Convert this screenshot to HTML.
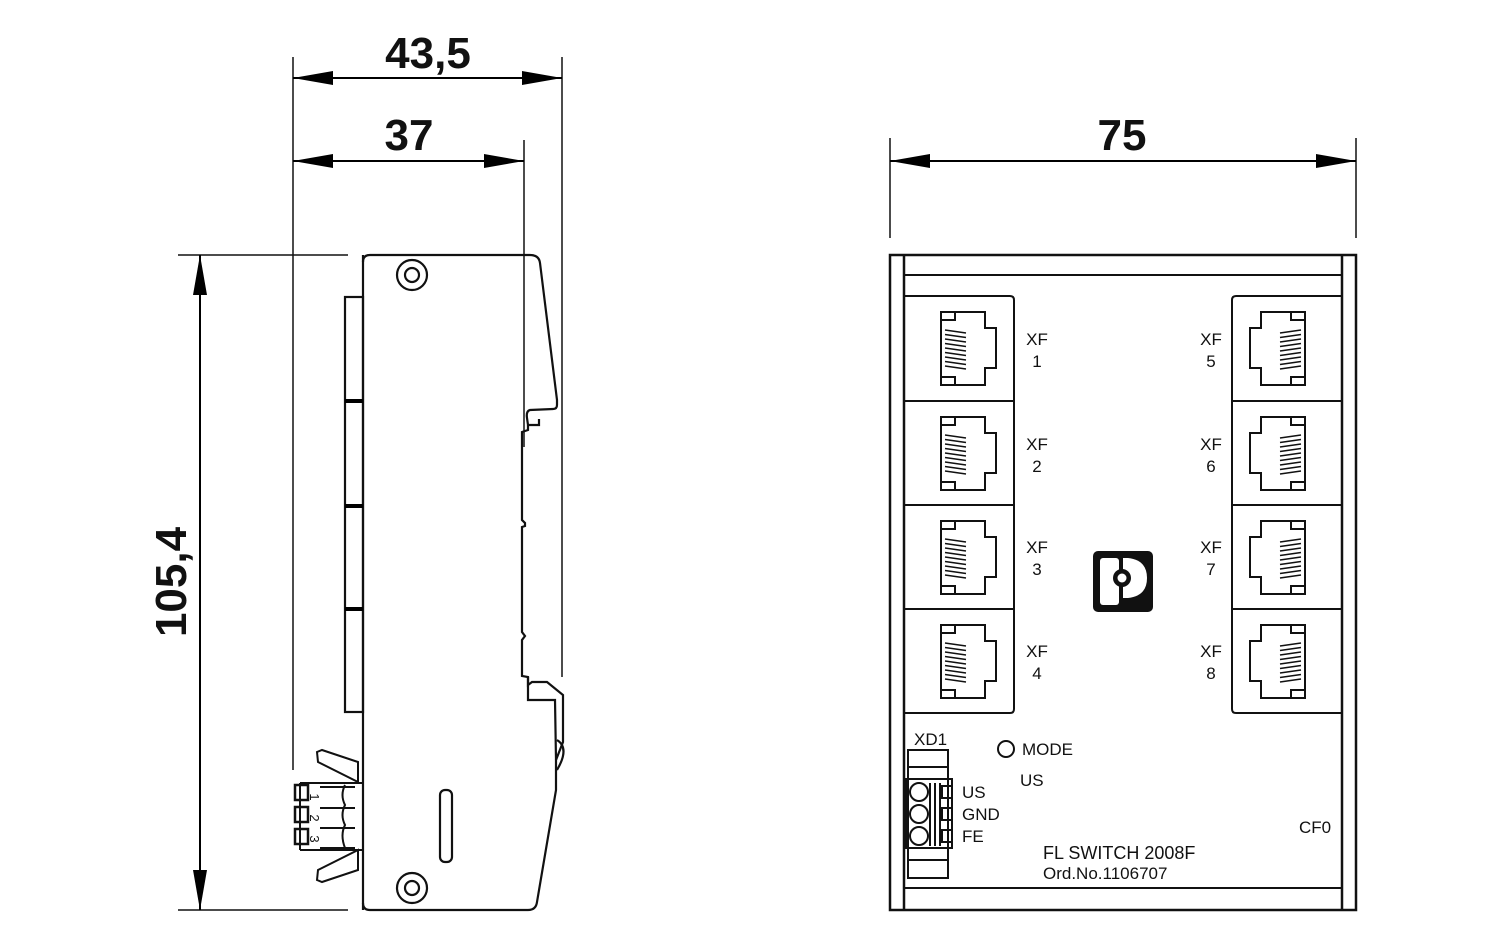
<!DOCTYPE html>
<html><head><meta charset="utf-8"><style>
html,body{margin:0;padding:0;background:#fff;}
svg{display:block;}
text{font-family:"Liberation Sans",sans-serif;fill:#111;}
</style></head><body>
<svg width="1500" height="937" viewBox="0 0 1500 937" xmlns="http://www.w3.org/2000/svg">
<defs>
<marker id="ar" viewBox="0 0 40 14" refX="40" refY="7" markerWidth="40" markerHeight="14" markerUnits="userSpaceOnUse" orient="auto-start-reverse">
<path d="M0,0 L40,7 L0,14 Z" fill="#000"/>
</marker>
<g id="jack" fill="none" stroke="#111" stroke-width="2">
<path d="M37,16 L81,16 L81,32 L92,32 L92,72 L81,72 L81,89 L37,89 Z"/>
<rect x="37" y="16" width="14" height="8"/>
<rect x="37" y="81" width="14" height="8"/>
<path stroke-width="1.6" d="M41,34 L62,37 M41,38.5 L62,41.5 M41,43 L62,46 M41,47.5 L62,50.5 M41,52 L62,55 M41,56.5 L62,59.5 M41,61 L62,64 M41,65.5 L62,68.5 M41,70 L62,73"/>
</g>
</defs>

<g stroke="#111" stroke-width="1.5" fill="none">
<line x1="293" y1="57" x2="293" y2="770"/>
<line x1="524" y1="140" x2="524" y2="447"/>
<line x1="562" y1="57" x2="562" y2="677"/>
<line x1="178" y1="255" x2="348" y2="255"/>
<line x1="178" y1="910" x2="348" y2="910"/>
<line x1="890" y1="138" x2="890" y2="238"/>
<line x1="1356" y1="138" x2="1356" y2="238"/>
</g>
<g stroke="#000" stroke-width="2">
<line x1="293" y1="78" x2="562" y2="78" marker-start="url(#ar)" marker-end="url(#ar)"/>
<line x1="293" y1="161" x2="524" y2="161" marker-start="url(#ar)" marker-end="url(#ar)"/>
<line x1="200" y1="255" x2="200" y2="910" marker-start="url(#ar)" marker-end="url(#ar)"/>
<line x1="890" y1="161" x2="1356" y2="161" marker-start="url(#ar)" marker-end="url(#ar)"/>
</g>
<text x="428" y="68" font-size="44" font-weight="bold" text-anchor="middle">43,5</text>
<text x="409" y="150" font-size="44" font-weight="bold" text-anchor="middle">37</text>
<text x="1122" y="150" font-size="44" font-weight="bold" text-anchor="middle">75</text>
<text transform="translate(186,582) rotate(-90)" font-size="44" font-weight="bold" text-anchor="middle">105,4</text>

<g stroke="#111" stroke-width="2.2" fill="none">
<path d="M363,262 Q363,255 370,255 L530,255 Q539,255 540,263 L557,400 L557,405 Q557,409 553,409 L530,410 Q526,411 527,418 L528,425 L539,425 L539,419"/>
<path d="M528,425 L528,430 L522,432 L522,520 L525,523 L525,526 L522,527 L522,632 L525,636 L522,640 L522,676 L528,677 L528,685 L532,682 L547,682 L563,695 L563,742 L556,760 L556,790 L537,902 Q536,910 528,910 L370,910 Q363,910 363,903"/>
<path d="M528,677 L528,700 L555,700 L556,760"/>
<path d="M363,255 L363,910"/>
<rect x="345" y="297" width="18" height="415"/>
<path d="M557,740 Q570,748 557,770" />
<rect x="440" y="790" width="12" height="72" rx="5"/>
<circle cx="412" cy="275" r="15"/>
<circle cx="412" cy="275" r="7"/>
<circle cx="412" cy="888" r="15"/>
<circle cx="412" cy="888" r="7"/>
</g>
<g stroke="#000" stroke-width="4">
<line x1="345" y1="401" x2="363" y2="401"/>
<line x1="345" y1="506" x2="363" y2="506"/>
<line x1="345" y1="609" x2="363" y2="609"/>
</g>
<g stroke="#111" stroke-width="2" fill="none">
<path d="M300,783 L363,783 M300,850 L363,850 M300,783 L300,850"/>
<rect x="295" y="785" width="13" height="15" stroke-width="2.5"/>
<rect x="295" y="807" width="13" height="15" stroke-width="2.5"/>
<rect x="295" y="829" width="13" height="15" stroke-width="2.5"/>
<path d="M320,787 L355,787 M320,808 L355,808 M320,828 L355,828 M320,848 L355,848"/>
<path d="M345,785 Q340,795 345,805 Q340,815 345,825 Q340,835 345,848"/>
<path d="M317,752 L322,750 L358,762 L358,782 L318,762 Z"/>
<path d="M317,880 L322,882 L358,870 L358,850 L318,870 Z"/>
</g>
<text transform="translate(310,797) rotate(90)" font-size="13" text-anchor="middle">1</text>
<text transform="translate(310,818) rotate(90)" font-size="13" text-anchor="middle">2</text>
<text transform="translate(310,839) rotate(90)" font-size="13" text-anchor="middle">3</text>

<g stroke="#111" stroke-width="2.5" fill="none">
<rect x="890" y="255" width="466" height="655"/>
<line x1="904" y1="255" x2="904" y2="910"/>
<line x1="1342" y1="255" x2="1342" y2="910"/>
<line x1="904" y1="275" x2="1342" y2="275" stroke-width="2"/>
<line x1="904" y1="888" x2="1342" y2="888" stroke-width="2"/>
<path d="M904,296 L1010,296 Q1014,296 1014,300 L1014,709 Q1014,713 1010,713 L904,713" stroke-width="2"/>
<path d="M1342,296 L1236,296 Q1232,296 1232,300 L1232,709 Q1232,713 1236,713 L1342,713" stroke-width="2"/>
<path d="M904,401 H1014 M904,505 H1014 M904,609 H1014 M1232,401 H1342 M1232,505 H1342 M1232,609 H1342" stroke-width="2"/>
</g>
<use href="#jack" transform="translate(904,296)"/>
<use href="#jack" transform="translate(904,401)"/>
<use href="#jack" transform="translate(904,505)"/>
<use href="#jack" transform="translate(904,609)"/>
<use href="#jack" transform="translate(1342,296) scale(-1,1)"/>
<use href="#jack" transform="translate(1342,401) scale(-1,1)"/>
<use href="#jack" transform="translate(1342,505) scale(-1,1)"/>
<use href="#jack" transform="translate(1342,609) scale(-1,1)"/>
<g font-size="17" text-anchor="middle">
<text x="1037" y="345">XF</text><text x="1037" y="367">1</text>
<text x="1037" y="450">XF</text><text x="1037" y="472">2</text>
<text x="1037" y="553">XF</text><text x="1037" y="575">3</text>
<text x="1037" y="657">XF</text><text x="1037" y="679">4</text>
<text x="1211" y="345">XF</text><text x="1211" y="367">5</text>
<text x="1211" y="450">XF</text><text x="1211" y="472">6</text>
<text x="1211" y="553">XF</text><text x="1211" y="575">7</text>
<text x="1211" y="657">XF</text><text x="1211" y="679">8</text>
</g>
<rect x="1093" y="551" width="60" height="61" rx="5" fill="#111"/>
<rect x="1100" y="558" width="19" height="47" rx="3" fill="#fff"/>
<path d="M1123,558 L1128,558 Q1147,560 1147,578 Q1147,596 1128,598 L1123,598 Z" fill="#fff"/>
<circle cx="1122" cy="578" r="9" fill="#111"/>
<circle cx="1122" cy="578" r="4.5" fill="#fff"/>
<g stroke="#111" stroke-width="2" fill="none">
<rect x="908" y="750" width="40" height="128"/>
<line x1="908" y1="767" x2="948" y2="767"/>
<line x1="908" y1="860" x2="948" y2="860"/>
<rect x="906" y="779" width="46" height="69"/>
<circle cx="919" cy="792" r="9"/><circle cx="919" cy="814" r="9"/><circle cx="919" cy="836" r="9"/>
<path d="M930,783 V846 M935,783 V846 M940,783 V846"/>
<rect x="942" y="786" width="10" height="12"/><rect x="942" y="808" width="10" height="12"/><rect x="942" y="830" width="10" height="12"/>
<circle cx="1006" cy="749" r="8"/>
</g>
<g font-size="17">
<text x="914" y="745">XD1</text>
<text x="1022" y="755">MODE</text>
<text x="1020" y="786">US</text>
<text x="962" y="798">US</text>
<text x="962" y="820">GND</text>
<text x="962" y="842">FE</text>
<text x="1299" y="833">CF0</text>
<text x="1043" y="859" font-size="18">FL SWITCH 2008F</text>
<text x="1043" y="879" font-size="17">Ord.No.1106707</text>
</g>
</svg>
</body></html>
